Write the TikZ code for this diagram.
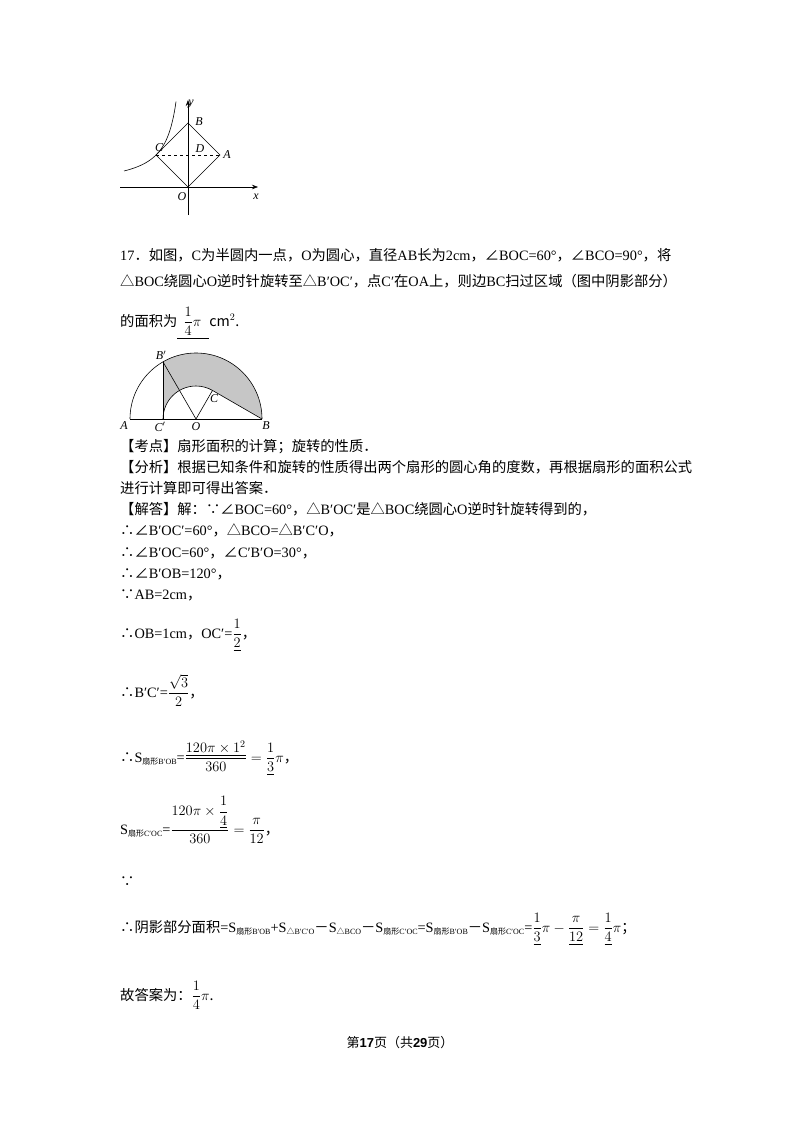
\documentclass[tikz,border=0pt]{standalone}
\usetikzlibrary{arrows.meta,calc}
\usepackage{amsmath}
\usepackage{fontspec}
\setmainfont{Liberation Serif}
\newfontfamily\cjk{Noto Sans CJK SC}
\newfontfamily\lat{Liberation Serif}
\newfontfamily\latsans{Liberation Sans}
\XeTeXinterchartokenstate=1
\newXeTeXintercharclass\cjkclass
\count255="4E00
\loop \XeTeXcharclass\count255=\cjkclass \ifnum\count255<"9FFF \advance\count255 1 \repeat
\count255="3000
\loop \XeTeXcharclass\count255=\cjkclass \ifnum\count255<"303F \advance\count255 1 \repeat
\count255="FF00
\loop \XeTeXcharclass\count255=\cjkclass \ifnum\count255<"FFEF \advance\count255 1 \repeat
\XeTeXcharclass"2220=\cjkclass
\XeTeXcharclass"2234=\cjkclass
\XeTeXcharclass"2235=\cjkclass
\XeTeXcharclass"25B3=\cjkclass
\XeTeXinterchartoks 0 \cjkclass = {\cjk}
\XeTeXinterchartoks 4095 \cjkclass = {\cjk}
\XeTeXinterchartoks \cjkclass 0 = {\lat}
\newcommand{\sub}[1]{\raisebox{-2pt}{\fontsize{8}{8}\selectfont #1}}
\begin{document}
\begin{tikzpicture}[x=1pt,y=-1pt,
  txt/.style={anchor=base west,inner sep=0pt,font=\fontsize{14.3}{17}\selectfont},
  lab/.style={inner sep=1pt,font=\fontsize{12}{12}\selectfont\itshape},
  thinline/.style={line width=0.6pt}]
\useasboundingbox[fill=white] (0,0) rectangle (800,1132);
% figure 1
\coordinate (O1) at (188,187);
\coordinate (B1) at (188,123);
\coordinate (A1) at (220,155);
\coordinate (C1) at (156,155);
\draw[thinline,-{Stealth[length=6pt]}] (120,187) -- (258,187);
\draw[thinline,-{Stealth[length=6pt]}] (188,215) -- (188,100);
\draw[thinline] (O1) -- (A1) -- (B1) -- (C1) -- cycle;
\draw[thinline,dashed] (C1) -- (A1);
\draw[thinline,domain=-64:-12,samples=60] plot ({188+\x},{187-1024/(-\x)});
\node[lab] at (191,104) {y};
\node[lab] at (199,122) {B};
\node[lab] at (227,155) {A};
\node[lab] at (159,148) {C};
\node[lab] at (200,149) {D};
\node[lab] at (182,197) {O};
\node[lab] at (256,197) {x};
% text
\node[txt] (t1) at (120,260) {17．如图，C为半圆内一点，O为圆心，直径AB长为2cm，∠BOC=60°，∠BCO=90°，将};
\node[txt] (t2) at (120,286) {△BOC绕圆心O逆时针旋转至△B′OC′，点C′在OA上，则边BC扫过区域（图中阴影部分）};
\node[txt] (t3) at (120,326) {的面积为\underline{\hspace{6pt}$\dfrac{1}{4}\pi$\hspace{8pt}}cm$^2$.};
% figure 2
\coordinate (O) at (196,419);
\coordinate (A) at (130,419);
\coordinate (B) at (262,419);
\coordinate (Bp) at ($(O)+(240:66)$);
\coordinate (Cp) at (163,419);
\coordinate (C) at ($(O)+(300:33)$);
\fill[gray!45] (Bp) arc[start angle=240,end angle=360,radius=66] -- (C) arc[start angle=300,end angle=180,radius=33] -- cycle;
\draw[thinline] (A) arc[start angle=180,end angle=360,radius=66];
\draw[thinline] (A) -- (B);
\draw[thinline] (Bp) -- (Cp);
\draw[thinline] (Bp) -- (O) -- (C) -- (B);
\draw[thinline] (Cp) arc[start angle=180,end angle=300,radius=33];
\node[lab] at (161,355) {B$'$};
\node[lab] at (124,426) {A};
\node[lab] at (160,427) {C$'$};
\node[lab] at (196,427) {O};
\node[lab] at (214,399) {C};
\node[lab] at (266,426) {B};
% solution
\node[txt] at (120,451) {【考点】扇形面积的计算；旋转的性质．};
\node[txt] at (120,472) {【分析】根据已知条件和旋转的性质得出两个扇形的圆心角的度数，再根据扇形的面积公式};
\node[txt] at (120,493) {进行计算即可得出答案．};
\node[txt] at (120,514) {【解答】解：∵∠BOC=60°，△B′OC′是△BOC绕圆心O逆时针旋转得到的，};
\node[txt] at (120,535) {∴∠B′OC′=60°，△BCO=△B′C′O，};
\node[txt] at (120,557) {∴∠B′OC=60°，∠C′B′O=30°，};
\node[txt] at (120,578) {∴∠B′OB=120°，};
\node[txt] at (120,599) {∵AB=2cm，};
\node[txt] at (120,638) {∴OB=1cm，OC′=$\dfrac{1}{\underline{2}}$，};
\node[txt] at (120,697) {∴B′C′=$\dfrac{\sqrt{3}}{2}$，};
\node[txt] at (120,762) {∴S\sub{扇形B′OB}=$\dfrac{\underline{120\pi\times1^2}}{360}=\dfrac{1}{\underline{3}}\pi$，};
\node[txt] at (120,834) {S\sub{扇形C′OC}=$\dfrac{120\pi\times\dfrac{1}{\underline{4}}}{360}=\dfrac{\pi}{12}$，};
\node[txt] at (120,886) {∵};
\node[txt] at (120,932) {∴阴影部分面积=S\sub{扇形B′OB}+S\sub{△B′C′O}－S\sub{△BCO}－S\sub{扇形C′OC}=S\sub{扇形B′OB}－S\sub{扇形C′OC}=$\dfrac{1}{\underline{3}}\pi-\dfrac{\pi}{\underline{12}}=\dfrac{1}{\underline{4}}\pi$；};
\node[txt] at (120,1000) {故答案为：$\dfrac{1}{4}\pi$.};
\node[anchor=base,inner sep=0pt,font=\fontsize{13}{15}\selectfont] at (400,1047) {第{\latsans\bfseries 17}页（共{\latsans\bfseries 29}页）};
\end{tikzpicture}
\end{document}
